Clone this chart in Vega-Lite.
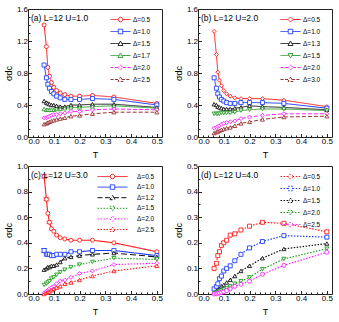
{
"$schema":"https://vega.github.io/schema/vega-lite/v6.json",
"padding":{"left":3,"top":4,"right":0,"bottom":0},
"background":"white",
"bounds":"flush",
"columns":2,
"spacing":{"row":29,"column":36},
"resolve":{"scale":{"x":"independent","y":"independent","color":"independent","strokeDash":"independent","shape":"independent"},"legend":{"color":"independent","strokeDash":"independent","shape":"independent"}},
"config":{
 "font":"Liberation Sans",
 "view":{"stroke":"#222","strokeWidth":1},
 "axis":{"grid":false,"domain":false,"tickColor":"#222","labelFontSize":8,"titleFontSize":9,"titleFontWeight":"normal","labelColor":"#000","titleColor":"#000","labelPadding":4,"titlePadding":3,"labelOverlap":false},
 "title":{"anchor":"start","frame":"group","fontSize":8.5,"fontWeight":"normal","offset":-17,"dx":3,"color":"#000"},
 "legend":{"labelFontSize":6.5,"labelColor":"#000","padding":0,"rowPadding":2,"symbolSize":100,"symbolStrokeWidth":1,"labelOffset":12,"symbolOpacity":1,"orient":"none","legendX":82,"legendY":5}
},
"datasets":{
"a":[
{"T":0.0625,"s":1.40,"g":"Δ=0.5"},{"T":0.0714,"s":1.13,"g":"Δ=0.5"},{"T":0.0769,"s":0.87,"g":"Δ=0.5"},{"T":0.0833,"s":0.76,"g":"Δ=0.5"},{"T":0.0909,"s":0.68,"g":"Δ=0.5"},{"T":0.1,"s":0.62,"g":"Δ=0.5"},{"T":0.1111,"s":0.58,"g":"Δ=0.5"},{"T":0.125,"s":0.55,"g":"Δ=0.5"},{"T":0.1429,"s":0.53,"g":"Δ=0.5"},{"T":0.1667,"s":0.51,"g":"Δ=0.5"},{"T":0.2,"s":0.51,"g":"Δ=0.5"},{"T":0.25,"s":0.52,"g":"Δ=0.5"},{"T":0.3333,"s":0.50,"g":"Δ=0.5"},{"T":0.5,"s":0.42,"g":"Δ=0.5"},
{"T":0.0625,"s":0.90,"g":"Δ=1.0"},{"T":0.0714,"s":0.74,"g":"Δ=1.0"},{"T":0.0769,"s":0.66,"g":"Δ=1.0"},{"T":0.0833,"s":0.61,"g":"Δ=1.0"},{"T":0.0909,"s":0.57,"g":"Δ=1.0"},{"T":0.1,"s":0.54,"g":"Δ=1.0"},{"T":0.1111,"s":0.51,"g":"Δ=1.0"},{"T":0.125,"s":0.49,"g":"Δ=1.0"},{"T":0.1429,"s":0.47,"g":"Δ=1.0"},{"T":0.1667,"s":0.47,"g":"Δ=1.0"},{"T":0.2,"s":0.47,"g":"Δ=1.0"},{"T":0.25,"s":0.48,"g":"Δ=1.0"},{"T":0.3333,"s":0.47,"g":"Δ=1.0"},{"T":0.5,"s":0.40,"g":"Δ=1.0"},
{"T":0.0625,"s":0.45,"g":"Δ=1.5"},{"T":0.0714,"s":0.43,"g":"Δ=1.5"},{"T":0.0769,"s":0.42,"g":"Δ=1.5"},{"T":0.0833,"s":0.41,"g":"Δ=1.5"},{"T":0.0909,"s":0.40,"g":"Δ=1.5"},{"T":0.1,"s":0.40,"g":"Δ=1.5"},{"T":0.1111,"s":0.39,"g":"Δ=1.5"},{"T":0.125,"s":0.38,"g":"Δ=1.5"},{"T":0.1429,"s":0.38,"g":"Δ=1.5"},{"T":0.1667,"s":0.40,"g":"Δ=1.5"},{"T":0.2,"s":0.40,"g":"Δ=1.5"},{"T":0.25,"s":0.41,"g":"Δ=1.5"},{"T":0.3333,"s":0.41,"g":"Δ=1.5"},{"T":0.5,"s":0.37,"g":"Δ=1.5"},
{"T":0.0625,"s":0.35,"g":"Δ=1.7"},{"T":0.0714,"s":0.34,"g":"Δ=1.7"},{"T":0.0769,"s":0.34,"g":"Δ=1.7"},{"T":0.0833,"s":0.34,"g":"Δ=1.7"},{"T":0.0909,"s":0.34,"g":"Δ=1.7"},{"T":0.1,"s":0.34,"g":"Δ=1.7"},{"T":0.1111,"s":0.35,"g":"Δ=1.7"},{"T":0.125,"s":0.35,"g":"Δ=1.7"},{"T":0.1429,"s":0.36,"g":"Δ=1.7"},{"T":0.1667,"s":0.37,"g":"Δ=1.7"},{"T":0.2,"s":0.37,"g":"Δ=1.7"},{"T":0.25,"s":0.38,"g":"Δ=1.7"},{"T":0.3333,"s":0.39,"g":"Δ=1.7"},{"T":0.5,"s":0.36,"g":"Δ=1.7"},
{"T":0.0625,"s":0.24,"g":"Δ=2.0"},{"T":0.0714,"s":0.24,"g":"Δ=2.0"},{"T":0.0769,"s":0.25,"g":"Δ=2.0"},{"T":0.0833,"s":0.26,"g":"Δ=2.0"},{"T":0.0909,"s":0.27,"g":"Δ=2.0"},{"T":0.1,"s":0.28,"g":"Δ=2.0"},{"T":0.1111,"s":0.28,"g":"Δ=2.0"},{"T":0.125,"s":0.29,"g":"Δ=2.0"},{"T":0.1429,"s":0.30,"g":"Δ=2.0"},{"T":0.1667,"s":0.32,"g":"Δ=2.0"},{"T":0.2,"s":0.32,"g":"Δ=2.0"},{"T":0.25,"s":0.34,"g":"Δ=2.0"},{"T":0.3333,"s":0.35,"g":"Δ=2.0"},{"T":0.5,"s":0.34,"g":"Δ=2.0"},
{"T":0.0625,"s":0.16,"g":"Δ=2.5"},{"T":0.0714,"s":0.17,"g":"Δ=2.5"},{"T":0.0769,"s":0.18,"g":"Δ=2.5"},{"T":0.0833,"s":0.19,"g":"Δ=2.5"},{"T":0.0909,"s":0.20,"g":"Δ=2.5"},{"T":0.1,"s":0.21,"g":"Δ=2.5"},{"T":0.1111,"s":0.22,"g":"Δ=2.5"},{"T":0.125,"s":0.23,"g":"Δ=2.5"},{"T":0.1429,"s":0.24,"g":"Δ=2.5"},{"T":0.1667,"s":0.26,"g":"Δ=2.5"},{"T":0.2,"s":0.27,"g":"Δ=2.5"},{"T":0.25,"s":0.29,"g":"Δ=2.5"},{"T":0.3333,"s":0.31,"g":"Δ=2.5"},{"T":0.5,"s":0.31,"g":"Δ=2.5"}
],
"b":[
{"T":0.0625,"s":1.32,"g":"Δ=0.5"},{"T":0.0714,"s":1.03,"g":"Δ=0.5"},{"T":0.0769,"s":0.81,"g":"Δ=0.5"},{"T":0.0833,"s":0.71,"g":"Δ=0.5"},{"T":0.0909,"s":0.64,"g":"Δ=0.5"},{"T":0.1,"s":0.58,"g":"Δ=0.5"},{"T":0.1111,"s":0.54,"g":"Δ=0.5"},{"T":0.125,"s":0.51,"g":"Δ=0.5"},{"T":0.1429,"s":0.49,"g":"Δ=0.5"},{"T":0.1667,"s":0.48,"g":"Δ=0.5"},{"T":0.2,"s":0.48,"g":"Δ=0.5"},{"T":0.25,"s":0.48,"g":"Δ=0.5"},{"T":0.3333,"s":0.46,"g":"Δ=0.5"},{"T":0.5,"s":0.38,"g":"Δ=0.5"},
{"T":0.0625,"s":0.74,"g":"Δ=1.0"},{"T":0.0714,"s":0.61,"g":"Δ=1.0"},{"T":0.0769,"s":0.54,"g":"Δ=1.0"},{"T":0.0833,"s":0.50,"g":"Δ=1.0"},{"T":0.0909,"s":0.47,"g":"Δ=1.0"},{"T":0.1,"s":0.45,"g":"Δ=1.0"},{"T":0.1111,"s":0.43,"g":"Δ=1.0"},{"T":0.125,"s":0.42,"g":"Δ=1.0"},{"T":0.1429,"s":0.42,"g":"Δ=1.0"},{"T":0.1667,"s":0.43,"g":"Δ=1.0"},{"T":0.2,"s":0.43,"g":"Δ=1.0"},{"T":0.25,"s":0.43,"g":"Δ=1.0"},{"T":0.3333,"s":0.42,"g":"Δ=1.0"},{"T":0.5,"s":0.36,"g":"Δ=1.0"},
{"T":0.0625,"s":0.41,"g":"Δ=1.3"},{"T":0.0714,"s":0.40,"g":"Δ=1.3"},{"T":0.0769,"s":0.38,"g":"Δ=1.3"},{"T":0.0833,"s":0.37,"g":"Δ=1.3"},{"T":0.0909,"s":0.36,"g":"Δ=1.3"},{"T":0.1,"s":0.35,"g":"Δ=1.3"},{"T":0.1111,"s":0.35,"g":"Δ=1.3"},{"T":0.125,"s":0.35,"g":"Δ=1.3"},{"T":0.1429,"s":0.36,"g":"Δ=1.3"},{"T":0.1667,"s":0.37,"g":"Δ=1.3"},{"T":0.2,"s":0.39,"g":"Δ=1.3"},{"T":0.25,"s":0.38,"g":"Δ=1.3"},{"T":0.3333,"s":0.37,"g":"Δ=1.3"},{"T":0.5,"s":0.34,"g":"Δ=1.3"},
{"T":0.0625,"s":0.29,"g":"Δ=1.5"},{"T":0.0714,"s":0.29,"g":"Δ=1.5"},{"T":0.0769,"s":0.29,"g":"Δ=1.5"},{"T":0.0833,"s":0.29,"g":"Δ=1.5"},{"T":0.0909,"s":0.30,"g":"Δ=1.5"},{"T":0.1,"s":0.30,"g":"Δ=1.5"},{"T":0.1111,"s":0.30,"g":"Δ=1.5"},{"T":0.125,"s":0.30,"g":"Δ=1.5"},{"T":0.1429,"s":0.31,"g":"Δ=1.5"},{"T":0.1667,"s":0.33,"g":"Δ=1.5"},{"T":0.2,"s":0.34,"g":"Δ=1.5"},{"T":0.25,"s":0.35,"g":"Δ=1.5"},{"T":0.3333,"s":0.35,"g":"Δ=1.5"},{"T":0.5,"s":0.33,"g":"Δ=1.5"},
{"T":0.0625,"s":0.11,"g":"Δ=2.0"},{"T":0.0714,"s":0.12,"g":"Δ=2.0"},{"T":0.0769,"s":0.13,"g":"Δ=2.0"},{"T":0.0833,"s":0.14,"g":"Δ=2.0"},{"T":0.0909,"s":0.16,"g":"Δ=2.0"},{"T":0.1,"s":0.17,"g":"Δ=2.0"},{"T":0.1111,"s":0.18,"g":"Δ=2.0"},{"T":0.125,"s":0.19,"g":"Δ=2.0"},{"T":0.1429,"s":0.20,"g":"Δ=2.0"},{"T":0.1667,"s":0.23,"g":"Δ=2.0"},{"T":0.2,"s":0.25,"g":"Δ=2.0"},{"T":0.25,"s":0.27,"g":"Δ=2.0"},{"T":0.3333,"s":0.29,"g":"Δ=2.0"},{"T":0.5,"s":0.29,"g":"Δ=2.0"},
{"T":0.0625,"s":0.05,"g":"Δ=3.0"},{"T":0.0714,"s":0.06,"g":"Δ=3.0"},{"T":0.0769,"s":0.07,"g":"Δ=3.0"},{"T":0.0833,"s":0.08,"g":"Δ=3.0"},{"T":0.0909,"s":0.09,"g":"Δ=3.0"},{"T":0.1,"s":0.10,"g":"Δ=3.0"},{"T":0.1111,"s":0.11,"g":"Δ=3.0"},{"T":0.125,"s":0.12,"g":"Δ=3.0"},{"T":0.1429,"s":0.14,"g":"Δ=3.0"},{"T":0.1667,"s":0.17,"g":"Δ=3.0"},{"T":0.2,"s":0.19,"g":"Δ=3.0"},{"T":0.25,"s":0.22,"g":"Δ=3.0"},{"T":0.3333,"s":0.25,"g":"Δ=3.0"},{"T":0.5,"s":0.26,"g":"Δ=3.0"}
],
"c":[
{"T":0.0625,"s":0.92,"g":"Δ=0.5","lo":0.905,"hi":0.935},{"T":0.0714,"s":0.74,"g":"Δ=0.5","lo":0.728,"hi":0.752},{"T":0.0769,"s":0.63,"g":"Δ=0.5"},{"T":0.0833,"s":0.56,"g":"Δ=0.5","lo":0.55,"hi":0.57},{"T":0.0909,"s":0.51,"g":"Δ=0.5"},{"T":0.1,"s":0.49,"g":"Δ=0.5"},{"T":0.1111,"s":0.46,"g":"Δ=0.5"},{"T":0.125,"s":0.44,"g":"Δ=0.5"},{"T":0.1429,"s":0.43,"g":"Δ=0.5"},{"T":0.1667,"s":0.42,"g":"Δ=0.5"},{"T":0.2,"s":0.42,"g":"Δ=0.5"},{"T":0.25,"s":0.42,"g":"Δ=0.5"},{"T":0.3333,"s":0.40,"g":"Δ=0.5"},{"T":0.5,"s":0.33,"g":"Δ=0.5"},
{"T":0.0625,"s":0.34,"g":"Δ=1.0","lo":0.325,"hi":0.355},{"T":0.0714,"s":0.31,"g":"Δ=1.0"},{"T":0.0769,"s":0.31,"g":"Δ=1.0"},{"T":0.0833,"s":0.31,"g":"Δ=1.0"},{"T":0.0909,"s":0.30,"g":"Δ=1.0"},{"T":0.1,"s":0.30,"g":"Δ=1.0"},{"T":0.1111,"s":0.31,"g":"Δ=1.0"},{"T":0.125,"s":0.31,"g":"Δ=1.0"},{"T":0.1429,"s":0.31,"g":"Δ=1.0"},{"T":0.1667,"s":0.33,"g":"Δ=1.0"},{"T":0.2,"s":0.33,"g":"Δ=1.0"},{"T":0.25,"s":0.34,"g":"Δ=1.0"},{"T":0.3333,"s":0.34,"g":"Δ=1.0"},{"T":0.5,"s":0.30,"g":"Δ=1.0"},
{"T":0.0625,"s":0.19,"g":"Δ=1.2"},{"T":0.0714,"s":0.20,"g":"Δ=1.2"},{"T":0.0769,"s":0.21,"g":"Δ=1.2"},{"T":0.0833,"s":0.21,"g":"Δ=1.2"},{"T":0.0909,"s":0.22,"g":"Δ=1.2"},{"T":0.1,"s":0.22,"g":"Δ=1.2"},{"T":0.1111,"s":0.23,"g":"Δ=1.2"},{"T":0.125,"s":0.25,"g":"Δ=1.2"},{"T":0.1429,"s":0.28,"g":"Δ=1.2"},{"T":0.1667,"s":0.29,"g":"Δ=1.2"},{"T":0.2,"s":0.30,"g":"Δ=1.2"},{"T":0.25,"s":0.31,"g":"Δ=1.2"},{"T":0.3333,"s":0.32,"g":"Δ=1.2"},{"T":0.5,"s":0.29,"g":"Δ=1.2"},
{"T":0.0625,"s":0.07,"g":"Δ=1.5"},{"T":0.0714,"s":0.08,"g":"Δ=1.5"},{"T":0.0769,"s":0.09,"g":"Δ=1.5"},{"T":0.0833,"s":0.10,"g":"Δ=1.5"},{"T":0.0909,"s":0.12,"g":"Δ=1.5"},{"T":0.1,"s":0.13,"g":"Δ=1.5"},{"T":0.1111,"s":0.15,"g":"Δ=1.5"},{"T":0.125,"s":0.17,"g":"Δ=1.5"},{"T":0.1429,"s":0.19,"g":"Δ=1.5"},{"T":0.1667,"s":0.21,"g":"Δ=1.5"},{"T":0.2,"s":0.23,"g":"Δ=1.5"},{"T":0.25,"s":0.25,"g":"Δ=1.5"},{"T":0.3333,"s":0.28,"g":"Δ=1.5"},{"T":0.5,"s":0.27,"g":"Δ=1.5"},
{"T":0.0625,"s":0.01,"g":"Δ=2.0"},{"T":0.0714,"s":0.02,"g":"Δ=2.0"},{"T":0.0769,"s":0.03,"g":"Δ=2.0"},{"T":0.0833,"s":0.04,"g":"Δ=2.0"},{"T":0.0909,"s":0.05,"g":"Δ=2.0"},{"T":0.1,"s":0.06,"g":"Δ=2.0"},{"T":0.1111,"s":0.08,"g":"Δ=2.0"},{"T":0.125,"s":0.10,"g":"Δ=2.0"},{"T":0.1429,"s":0.11,"g":"Δ=2.0"},{"T":0.1667,"s":0.13,"g":"Δ=2.0"},{"T":0.2,"s":0.16,"g":"Δ=2.0"},{"T":0.25,"s":0.18,"g":"Δ=2.0"},{"T":0.3333,"s":0.23,"g":"Δ=2.0"},{"T":0.5,"s":0.24,"g":"Δ=2.0"},
{"T":0.0625,"s":0.0,"g":"Δ=2.5"},{"T":0.0714,"s":0.01,"g":"Δ=2.5"},{"T":0.0769,"s":0.015,"g":"Δ=2.5"},{"T":0.0833,"s":0.02,"g":"Δ=2.5"},{"T":0.0909,"s":0.03,"g":"Δ=2.5"},{"T":0.1,"s":0.04,"g":"Δ=2.5"},{"T":0.1111,"s":0.05,"g":"Δ=2.5"},{"T":0.125,"s":0.06,"g":"Δ=2.5"},{"T":0.1429,"s":0.08,"g":"Δ=2.5"},{"T":0.1667,"s":0.09,"g":"Δ=2.5"},{"T":0.2,"s":0.11,"g":"Δ=2.5"},{"T":0.25,"s":0.14,"g":"Δ=2.5"},{"T":0.3333,"s":0.18,"g":"Δ=2.5"},{"T":0.5,"s":0.22,"g":"Δ=2.5"}
],
"d":[
{"T":0.0625,"s":0.10,"g":"Δ=0.5"},{"T":0.0714,"s":0.12,"g":"Δ=0.5"},{"T":0.0769,"s":0.15,"g":"Δ=0.5"},{"T":0.0833,"s":0.165,"g":"Δ=0.5"},{"T":0.0909,"s":0.19,"g":"Δ=0.5"},{"T":0.1,"s":0.20,"g":"Δ=0.5"},{"T":0.1111,"s":0.21,"g":"Δ=0.5"},{"T":0.125,"s":0.23,"g":"Δ=0.5"},{"T":0.1429,"s":0.235,"g":"Δ=0.5"},{"T":0.1667,"s":0.25,"g":"Δ=0.5"},{"T":0.2,"s":0.265,"g":"Δ=0.5"},{"T":0.25,"s":0.28,"g":"Δ=0.5"},{"T":0.3333,"s":0.276,"g":"Δ=0.5"},{"T":0.5,"s":0.243,"g":"Δ=0.5"},
{"T":0.0625,"s":0.02,"g":"Δ=1.0"},{"T":0.0714,"s":0.03,"g":"Δ=1.0"},{"T":0.0769,"s":0.04,"g":"Δ=1.0"},{"T":0.0833,"s":0.06,"g":"Δ=1.0"},{"T":0.0909,"s":0.07,"g":"Δ=1.0"},{"T":0.1,"s":0.09,"g":"Δ=1.0"},{"T":0.1111,"s":0.10,"g":"Δ=1.0"},{"T":0.125,"s":0.11,"g":"Δ=1.0"},{"T":0.1429,"s":0.13,"g":"Δ=1.0"},{"T":0.1667,"s":0.155,"g":"Δ=1.0"},{"T":0.2,"s":0.18,"g":"Δ=1.0"},{"T":0.25,"s":0.205,"g":"Δ=1.0"},{"T":0.3333,"s":0.228,"g":"Δ=1.0"},{"T":0.5,"s":0.222,"g":"Δ=1.0"},
{"T":0.0625,"s":0.005,"g":"Δ=1.5"},{"T":0.0714,"s":0.01,"g":"Δ=1.5"},{"T":0.0769,"s":0.015,"g":"Δ=1.5"},{"T":0.0833,"s":0.02,"g":"Δ=1.5"},{"T":0.0909,"s":0.03,"g":"Δ=1.5"},{"T":0.1,"s":0.035,"g":"Δ=1.5"},{"T":0.1111,"s":0.045,"g":"Δ=1.5"},{"T":0.125,"s":0.055,"g":"Δ=1.5"},{"T":0.1429,"s":0.07,"g":"Δ=1.5"},{"T":0.1667,"s":0.09,"g":"Δ=1.5"},{"T":0.2,"s":0.11,"g":"Δ=1.5"},{"T":0.25,"s":0.14,"g":"Δ=1.5"},{"T":0.3333,"s":0.176,"g":"Δ=1.5"},{"T":0.5,"s":0.197,"g":"Δ=1.5"},
{"T":0.0625,"s":0.002,"g":"Δ=2.0"},{"T":0.0714,"s":0.004,"g":"Δ=2.0"},{"T":0.0769,"s":0.006,"g":"Δ=2.0"},{"T":0.0833,"s":0.01,"g":"Δ=2.0"},{"T":0.0909,"s":0.013,"g":"Δ=2.0"},{"T":0.1,"s":0.017,"g":"Δ=2.0"},{"T":0.1111,"s":0.022,"g":"Δ=2.0"},{"T":0.125,"s":0.03,"g":"Δ=2.0"},{"T":0.1429,"s":0.04,"g":"Δ=2.0"},{"T":0.1667,"s":0.05,"g":"Δ=2.0"},{"T":0.2,"s":0.065,"g":"Δ=2.0"},{"T":0.25,"s":0.097,"g":"Δ=2.0"},{"T":0.3333,"s":0.137,"g":"Δ=2.0"},{"T":0.5,"s":0.177,"g":"Δ=2.0"},
{"T":0.0625,"s":0.0,"g":"Δ=2.5"},{"T":0.0714,"s":0.001,"g":"Δ=2.5"},{"T":0.0769,"s":0.002,"g":"Δ=2.5"},{"T":0.0833,"s":0.004,"g":"Δ=2.5"},{"T":0.0909,"s":0.006,"g":"Δ=2.5"},{"T":0.1,"s":0.009,"g":"Δ=2.5"},{"T":0.1111,"s":0.013,"g":"Δ=2.5"},{"T":0.125,"s":0.02,"g":"Δ=2.5"},{"T":0.1429,"s":0.03,"g":"Δ=2.5"},{"T":0.1667,"s":0.038,"g":"Δ=2.5"},{"T":0.2,"s":0.05,"g":"Δ=2.5"},{"T":0.25,"s":0.077,"g":"Δ=2.5"},{"T":0.3333,"s":0.112,"g":"Δ=2.5"},{"T":0.5,"s":0.163,"g":"Δ=2.5"}
]
},
"concat":[
{
 "title":{"text":"(a) L=12 U=1.0"},
 "width":134,"height":128,
 "data":{"name":"a"},
 "resolve":{"scale":{"color":"independent","strokeDash":"independent","shape":"independent"}},
 "encoding":{
  "x":{"field":"T","type":"quantitative","scale":{"domain":[0,0.52],"nice":false,"zero":false},"axis":{"values":[0,0.02,0.04,0.06,0.08,0.1,0.12,0.14,0.16,0.18,0.2,0.22,0.24,0.26,0.28,0.3,0.32,0.34,0.36,0.38,0.4,0.42,0.44,0.46,0.48,0.5],"labelExpr":"abs(datum.value*10-round(datum.value*10))<0.01 ? format(datum.value,'.1f') : ''","tickSize":{"condition":{"test":"abs(datum.value*10-round(datum.value*10))<0.01","value":-3.5},"value":-2},"title":"T"}},
  "y":{"field":"s","type":"quantitative","scale":{"domain":[0,1.6],"nice":false},"axis":{"values":[0,0.1,0.2,0.3,0.4,0.5,0.6,0.7,0.8,0.9,1.0,1.1,1.2,1.3,1.4,1.5,1.6],"labelExpr":"abs(datum.value/0.4-round(datum.value/0.4))<0.01 ? format(datum.value,'.1f') : ''","tickSize":{"condition":{"test":"abs(datum.value/0.4-round(datum.value/0.4))<0.01","value":-3.5},"value":-2},"title":"σdc"}}
 },
 "layer":[
  {"mark":{"type":"line","strokeWidth":1},
   "encoding":{
    "color":{"field":"g","type":"nominal","scale":{"domain":["Δ=0.5","Δ=1.0","Δ=1.5","Δ=1.7","Δ=2.0","Δ=2.5"],"range":["#ff1a1a","#1f3fff","#111111","#2e9e2e","#ff22ff","#993333"]},"legend":null},
    "strokeDash":{"field":"g","type":"nominal","scale":{"domain":["Δ=0.5","Δ=1.0","Δ=1.5","Δ=1.7","Δ=2.0","Δ=2.5"],"range":[[1,0],[1,0],[1,0],[1,0],[4,2],[4,2]]},"legend":null}
   }},
  {"mark":{"type":"point","filled":false,"fill":"white","size":16,"strokeWidth":0.9,"opacity":1},
   "encoding":{
    "color":{"field":"g","type":"nominal","scale":{"domain":["Δ=0.5","Δ=1.0","Δ=1.5","Δ=1.7","Δ=2.0","Δ=2.5"],"range":["#ff1a1a","#1f3fff","#111111","#2e9e2e","#ff22ff","#993333"]},"legend":null},
    "shape":{"field":"g","type":"nominal","scale":{"domain":["Δ=0.5","Δ=1.0","Δ=1.5","Δ=1.7","Δ=2.0","Δ=2.5"],"range":["circle","square","triangle-up","triangle-up","diamond","triangle-up"]},"legend":null}
   }},
  {"mark":{"type":"point","filled":false,"fill":"white","opacity":0},
   "encoding":{
    "color":{"field":"g","type":"nominal","scale":{"domain":["Δ=0.5","Δ=1.0","Δ=1.5","Δ=1.7","Δ=2.0","Δ=2.5"],"range":["#ff1a1a","#1f3fff","#111111","#2e9e2e","#ff22ff","#993333"]},"legend":{"title":null}},
    "strokeDash":{"field":"g","type":"nominal","scale":{"domain":["Δ=0.5","Δ=1.0","Δ=1.5","Δ=1.7","Δ=2.0","Δ=2.5"],"range":[[1,0],[1,0],[1,0],[1,0],[3,1.5],[3,1.5]]},"legend":{"title":null}},
    "shape":{"field":"g","type":"nominal","scale":{"domain":["Δ=0.5","Δ=1.0","Δ=1.5","Δ=1.7","Δ=2.0","Δ=2.5"],"range":["M-1,0H0.55M1.45,0H3M1.45,0A0.45,0.45,0,1,1,0.55,0A0.45,0.45,0,1,1,1.45,0","M-1,0H0.55M1.45,0H3M0.55,-0.45H1.45V0.45H0.55Z","M-1,0H0.72M1.28,0H3M1,-0.5L1.5,0.4H0.5Z","M-1,0H0.72M1.28,0H3M1,-0.5L1.5,0.4H0.5Z","M-1,0H0.5M1.5,0H3M1,-0.5L1.5,0L1,0.5L0.5,0Z","M-1,0H0.72M1.28,0H3M1,-0.5L1.5,0.4H0.5Z"]},"legend":{"title":null}}
   }}
 ]
},
{
 "title":{"text":"(b)  L=12 U=2.0"},
 "width":134,"height":128,
 "data":{"name":"b"},
 "resolve":{"scale":{"color":"independent","strokeDash":"independent","shape":"independent"}},
 "encoding":{
  "x":{"field":"T","type":"quantitative","scale":{"domain":[0,0.52],"nice":false,"zero":false},"axis":{"values":[0,0.02,0.04,0.06,0.08,0.1,0.12,0.14,0.16,0.18,0.2,0.22,0.24,0.26,0.28,0.3,0.32,0.34,0.36,0.38,0.4,0.42,0.44,0.46,0.48,0.5],"labelExpr":"abs(datum.value*10-round(datum.value*10))<0.01 ? format(datum.value,'.1f') : ''","tickSize":{"condition":{"test":"abs(datum.value*10-round(datum.value*10))<0.01","value":-3.5},"value":-2},"title":"T"}},
  "y":{"field":"s","type":"quantitative","scale":{"domain":[0,1.6],"nice":false},"axis":{"values":[0,0.1,0.2,0.3,0.4,0.5,0.6,0.7,0.8,0.9,1.0,1.1,1.2,1.3,1.4,1.5,1.6],"labelExpr":"abs(datum.value/0.4-round(datum.value/0.4))<0.01 ? format(datum.value,'.1f') : ''","tickSize":{"condition":{"test":"abs(datum.value/0.4-round(datum.value/0.4))<0.01","value":-3.5},"value":-2},"title":"σdc"}}
 },
 "layer":[
  {"mark":{"type":"line","strokeWidth":1},
   "encoding":{
    "color":{"field":"g","type":"nominal","scale":{"domain":["Δ=0.5","Δ=1.0","Δ=1.3","Δ=1.5","Δ=2.0","Δ=3.0"],"range":["#ff1a1a","#1f3fff","#111111","#2e9e2e","#ff22ff","#993333"]},"legend":null},
    "strokeDash":{"field":"g","type":"nominal","scale":{"domain":["Δ=0.5","Δ=1.0","Δ=1.3","Δ=1.5","Δ=2.0","Δ=3.0"],"range":[[1,0],[1,0],[1,0],[1,0],[4,2],[4,2]]},"legend":null}
   }},
  {"mark":{"type":"point","filled":false,"fill":"white","size":16,"strokeWidth":0.9,"opacity":1},
   "encoding":{
    "color":{"field":"g","type":"nominal","scale":{"domain":["Δ=0.5","Δ=1.0","Δ=1.3","Δ=1.5","Δ=2.0","Δ=3.0"],"range":["#ff1a1a","#1f3fff","#111111","#2e9e2e","#ff22ff","#993333"]},"legend":null},
    "shape":{"field":"g","type":"nominal","scale":{"domain":["Δ=0.5","Δ=1.0","Δ=1.3","Δ=1.5","Δ=2.0","Δ=3.0"],"range":["diamond","square","triangle-up","triangle-down","diamond","triangle-up"]},"legend":null}
   }},
  {"mark":{"type":"point","filled":false,"fill":"white","opacity":0},
   "encoding":{
    "color":{"field":"g","type":"nominal","scale":{"domain":["Δ=0.5","Δ=1.0","Δ=1.3","Δ=1.5","Δ=2.0","Δ=3.0"],"range":["#ff1a1a","#1f3fff","#111111","#2e9e2e","#ff22ff","#993333"]},"legend":{"title":null}},
    "strokeDash":{"field":"g","type":"nominal","scale":{"domain":["Δ=0.5","Δ=1.0","Δ=1.3","Δ=1.5","Δ=2.0","Δ=3.0"],"range":[[1,0],[1,0],[1,0],[1,0],[3,1.5],[3,1.5]]},"legend":{"title":null}},
    "shape":{"field":"g","type":"nominal","scale":{"domain":["Δ=0.5","Δ=1.0","Δ=1.3","Δ=1.5","Δ=2.0","Δ=3.0"],"range":["M-1,0H0.5M1.5,0H3M1,-0.5L1.5,0L1,0.5L0.5,0Z","M-1,0H0.55M1.45,0H3M0.55,-0.45H1.45V0.45H0.55Z","M-1,0H0.72M1.28,0H3M1,-0.5L1.5,0.4H0.5Z","M-1,0H0.72M1.28,0H3M1,0.5L1.5,-0.4H0.5Z","M-1,0H0.5M1.5,0H3M1,-0.5L1.5,0L1,0.5L0.5,0Z","M-1,0H0.72M1.28,0H3M1,-0.5L1.5,0.4H0.5Z"]},"legend":{"title":null}}
   }}
 ]
},
{
 "title":{"text":"(c) L=12 U=3.0"},
 "width":134,"height":128,
 "data":{"name":"c"},
 "resolve":{"scale":{"color":"independent","strokeDash":"independent","shape":"independent"}},
 "encoding":{
  "x":{"field":"T","type":"quantitative","scale":{"domain":[0,0.52],"nice":false,"zero":false},"axis":{"values":[0,0.02,0.04,0.06,0.08,0.1,0.12,0.14,0.16,0.18,0.2,0.22,0.24,0.26,0.28,0.3,0.32,0.34,0.36,0.38,0.4,0.42,0.44,0.46,0.48,0.5],"labelExpr":"abs(datum.value*10-round(datum.value*10))<0.01 ? format(datum.value,'.1f') : ''","tickSize":{"condition":{"test":"abs(datum.value*10-round(datum.value*10))<0.01","value":-3.5},"value":-2},"title":"T"}},
  "y":{"field":"s","type":"quantitative","scale":{"domain":[0,1.0],"nice":false},"axis":{"values":[0,0.1,0.2,0.3,0.4,0.5,0.6,0.7,0.8,0.9,1.0],"labelExpr":"abs(datum.value/0.2-round(datum.value/0.2))<0.01 ? format(datum.value,'.1f') : ''","tickSize":{"condition":{"test":"abs(datum.value/0.2-round(datum.value/0.2))<0.01","value":-3.5},"value":-2},"title":"σdc"}}
 },
 "layer":[
  {"mark":{"type":"line","strokeWidth":1.1},
   "encoding":{
    "color":{"field":"g","type":"nominal","scale":{"domain":["Δ=0.5","Δ=1.0","Δ=1.2","Δ=1.5","Δ=2.0","Δ=2.5"],"range":["#ff1a1a","#1f3fff","#111111","#1e9e1e","#ff22ff","#ff1a1a"]},"legend":null},
    "strokeDash":{"field":"g","type":"nominal","scale":{"domain":["Δ=0.5","Δ=1.0","Δ=1.2","Δ=1.5","Δ=2.0","Δ=2.5"],"range":[[1,0],[1,0],[6,3],[1.5,1.5],[1.5,1.5],[1.5,1.5]]},"legend":null}
   }},
  {"mark":{"type":"rule","strokeWidth":1},
   "transform":[{"filter":"isValid(datum.lo)"}],
   "encoding":{"y":{"field":"lo","type":"quantitative"},"y2":{"field":"hi"},"color":{"field":"g","type":"nominal","scale":{"domain":["Δ=0.5","Δ=1.0","Δ=1.2","Δ=1.5","Δ=2.0","Δ=2.5"],"range":["#ff1a1a","#1f3fff","#111111","#1e9e1e","#ff22ff","#ff1a1a"]},"legend":null}}},
  {"mark":{"type":"tick","thickness":1,"size":6,"orient":"horizontal"},
   "transform":[{"filter":"isValid(datum.lo)"},{"fold":["lo","hi"],"as":["k","e"]}],
   "encoding":{"y":{"field":"e","type":"quantitative"},"color":{"field":"g","type":"nominal","scale":{"domain":["Δ=0.5","Δ=1.0","Δ=1.2","Δ=1.5","Δ=2.0","Δ=2.5"],"range":["#ff1a1a","#1f3fff","#111111","#1e9e1e","#ff22ff","#ff1a1a"]},"legend":null}}},
  {"mark":{"type":"point","filled":false,"fill":"white","size":16,"strokeWidth":0.9,"opacity":1},
   "encoding":{
    "color":{"field":"g","type":"nominal","scale":{"domain":["Δ=0.5","Δ=1.0","Δ=1.2","Δ=1.5","Δ=2.0","Δ=2.5"],"range":["#ff1a1a","#1f3fff","#111111","#1e9e1e","#ff22ff","#ff1a1a"]},"legend":null},
    "shape":{"field":"g","type":"nominal","scale":{"domain":["Δ=0.5","Δ=1.0","Δ=1.2","Δ=1.5","Δ=2.0","Δ=2.5"],"range":["circle","square","triangle-up","triangle-down","diamond","triangle-up"]},"legend":null}
   }},
  {"mark":{"type":"point","filled":false,"fill":"white","opacity":0},
   "encoding":{
    "color":{"field":"g","type":"nominal","scale":{"domain":["Δ=0.5","Δ=1.0","Δ=1.2","Δ=1.5","Δ=2.0","Δ=2.5"],"range":["#ff1a1a","#1f3fff","#111111","#1e9e1e","#ff22ff","#ff1a1a"]},"legend":{"title":null,"legendX":74,"rowPadding":0.6,"labelOffset":24}},
    "strokeDash":{"field":"g","type":"nominal","scale":{"domain":["Δ=0.5","Δ=1.0","Δ=1.2","Δ=1.5","Δ=2.0","Δ=2.5"],"range":[[1,0],[1,0],[5,2.5],[1.5,1.5],[1.5,1.5],[1.5,1.5]]},"legend":{"title":null,"legendX":74,"rowPadding":0.6,"labelOffset":24}},
    "shape":{"field":"g","type":"nominal","scale":{"domain":["Δ=0.5","Δ=1.0","Δ=1.2","Δ=1.5","Δ=2.0","Δ=2.5"],"range":["M-2,0H0.55M1.45,0H4M1.45,0A0.45,0.45,0,1,1,0.55,0A0.45,0.45,0,1,1,1.45,0","M-2,0H0.55M1.45,0H4M0.55,-0.45H1.45V0.45H0.55Z","M-2,0H0.72M1.28,0H4M1,-0.5L1.5,0.4H0.5Z","M-2,0H0.72M1.28,0H4M1,0.5L1.5,-0.4H0.5Z","M-2,0H0.5M1.5,0H4M1,-0.5L1.5,0L1,0.5L0.5,0Z","M-2,0H0.72M1.28,0H4M1,-0.5L1.5,0.4H0.5Z"]},"legend":{"title":null,"legendX":74,"rowPadding":0.6,"labelOffset":24}}
   }}
 ]
},
{
 "title":{"text":"(d) L=12 U=4.0"},
 "width":134,"height":128,
 "data":{"name":"d"},
 "resolve":{"scale":{"color":"independent","strokeDash":"independent","shape":"independent"}},
 "encoding":{
  "x":{"field":"T","type":"quantitative","scale":{"domain":[0,0.52],"nice":false,"zero":false},"axis":{"values":[0,0.02,0.04,0.06,0.08,0.1,0.12,0.14,0.16,0.18,0.2,0.22,0.24,0.26,0.28,0.3,0.32,0.34,0.36,0.38,0.4,0.42,0.44,0.46,0.48,0.5],"labelExpr":"abs(datum.value*10-round(datum.value*10))<0.01 ? format(datum.value,'.1f') : ''","tickSize":{"condition":{"test":"abs(datum.value*10-round(datum.value*10))<0.01","value":-3.5},"value":-2},"title":"T"}},
  "y":{"field":"s","type":"quantitative","scale":{"domain":[0,0.5],"nice":false},"axis":{"values":[0,0.05,0.1,0.15,0.2,0.25,0.3,0.35,0.4,0.45,0.5],"labelExpr":"abs(datum.value*10-round(datum.value*10))<0.01 ? format(datum.value,'.1f') : ''","tickSize":{"condition":{"test":"abs(datum.value*10-round(datum.value*10))<0.01","value":-3.5},"value":-2},"title":"σdc"}}
 },
 "layer":[
  {"mark":{"type":"line","strokeWidth":1.2},
   "encoding":{
    "color":{"field":"g","type":"nominal","scale":{"domain":["Δ=0.5","Δ=1.0","Δ=1.5","Δ=2.0","Δ=2.5"],"range":["#ff1a1a","#1f3fff","#111111","#1e9e1e","#ff22ff"]},"legend":null},
    "strokeDash":{"field":"g","type":"nominal","scale":{"domain":["Δ=0.5","Δ=1.0","Δ=1.5","Δ=2.0","Δ=2.5"],"range":[[1.5,1.5],[1.5,1.5],[1.5,1.5],[1.5,1.5],[1.5,1.5]]},"legend":null}
   }},
  {"mark":{"type":"point","filled":false,"fill":"white","size":16,"strokeWidth":0.9,"opacity":1},
   "encoding":{
    "color":{"field":"g","type":"nominal","scale":{"domain":["Δ=0.5","Δ=1.0","Δ=1.5","Δ=2.0","Δ=2.5"],"range":["#ff1a1a","#1f3fff","#111111","#1e9e1e","#ff22ff"]},"legend":null},
    "shape":{"field":"g","type":"nominal","scale":{"domain":["Δ=0.5","Δ=1.0","Δ=1.5","Δ=2.0","Δ=2.5"],"range":["square","square","triangle-up","triangle-down","circle"]},"legend":null}
   }},
  {"mark":{"type":"point","filled":false,"fill":"white","opacity":0},
   "encoding":{
    "color":{"field":"g","type":"nominal","scale":{"domain":["Δ=0.5","Δ=1.0","Δ=1.5","Δ=2.0","Δ=2.5"],"range":["#ff1a1a","#1f3fff","#111111","#1e9e1e","#ff22ff"]},"legend":{"title":null}},
    "strokeDash":{"field":"g","type":"nominal","scale":{"domain":["Δ=0.5","Δ=1.0","Δ=1.5","Δ=2.0","Δ=2.5"],"range":[[1.5,1.5],[1.5,1.5],[1.5,1.5],[1.5,1.5],[1.5,1.5]]},"legend":{"title":null}},
    "shape":{"field":"g","type":"nominal","scale":{"domain":["Δ=0.5","Δ=1.0","Δ=1.5","Δ=2.0","Δ=2.5"],"range":["M-1,0H0.55M1.45,0H3M1.45,0A0.45,0.45,0,1,1,0.55,0A0.45,0.45,0,1,1,1.45,0","M-1,0H0.55M1.45,0H3M0.55,-0.45H1.45V0.45H0.55Z","M-1,0H0.72M1.28,0H3M1,-0.5L1.5,0.4H0.5Z","M-1,0H0.72M1.28,0H3M1,0.5L1.5,-0.4H0.5Z","M-1,0H0.55M1.45,0H3M1.45,0A0.45,0.45,0,1,1,0.55,0A0.45,0.45,0,1,1,1.45,0"]},"legend":{"title":null}}
   }}
 ]
}
]
}
